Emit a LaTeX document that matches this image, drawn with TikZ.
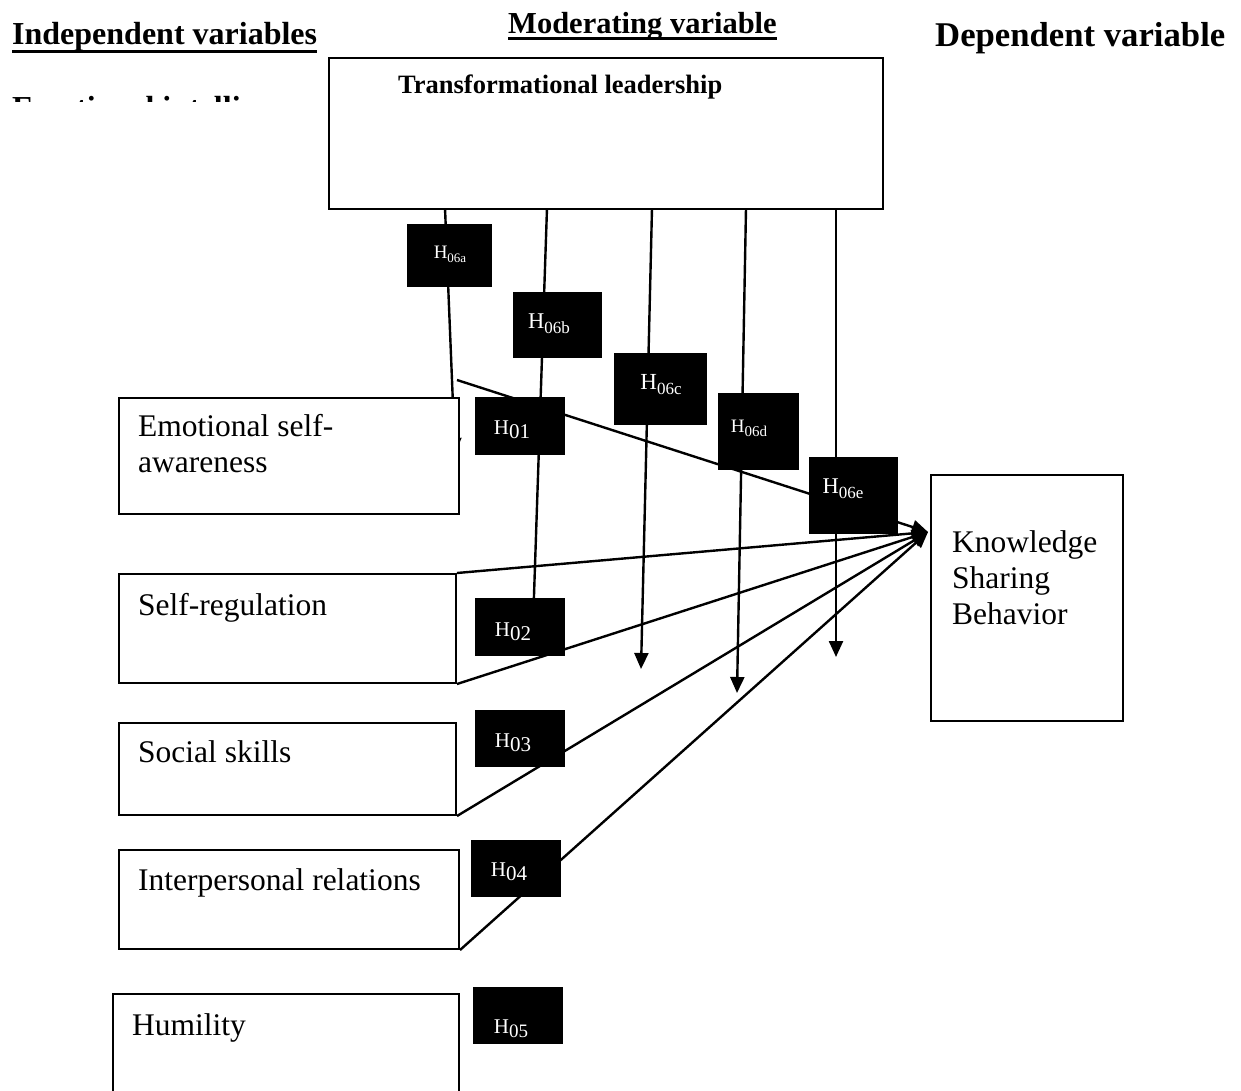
\documentclass[tikz,border=0pt]{standalone}
\usepackage{fontspec}
\setmainfont{Liberation Serif}
\usetikzlibrary{arrows.meta,calc}
\pgfdeclarelayer{bg}
\pgfdeclarelayer{lines}
\pgfsetlayers{bg,lines,main}
\newcommand\Hsub[4]{{\fontsize{#1}{#1}\selectfont H}{\fontsize{#2}{#2}\selectfont\raisebox{-#3pt}{#4}}}
\begin{document}
\begin{tikzpicture}[x=1pt,y=-1pt,
  conn/.style={line width=2.4pt},
  arr/.style={conn,-{Triangle[length=16pt,width=14pt]}},
  wbox/.style={draw,line width=2pt,fill=white,anchor=north west,inner sep=0pt},
  hbox/.style={fill=black,anchor=north west,inner sep=0pt},
  hlab/.style={text=white,inner sep=0pt,anchor=center},
  head/.style={font=\fontsize{32}{36}\selectfont\bfseries,anchor=base west,inner sep=0pt},
  body/.style={font=\fontsize{31.5}{36}\selectfont,anchor=base west,inner sep=0pt,align=left},
  uline/.style={line width=3pt}]
\begin{pgfonlayer}{bg}
\fill[white] (0,0) rectangle (1241,1091);
\end{pgfonlayer}
\useasboundingbox (0,0) rectangle (1241,1091);
\clip (0,0) rectangle (1241,1091);

% headers
\node[head] (indep) at (12,45) {Independent variables};
\draw[uline] ($(indep.base west)+(0,7)$) -- ($(indep.base east)+(0,7)$);
\node[head,font=\fontsize{30.5}{36}\selectfont\bfseries] (moder) at (508,34) {Moderating variable};
\draw[uline] ($(moder.base west)+(0,5)$) -- ($(moder.base east)+(0,5)$);
\node[head,font=\fontsize{34.7}{36}\selectfont\bfseries] (depen) at (935,47) {Dependent variable};
\begin{scope}
\clip (0,96) rectangle (242,102);
\node[head] (emint) at (12,119) {Emotional intelligence};
\end{scope}

% boxes
\node[wbox,minimum width=554,minimum height=151] (tl) at (328,57) {};
\node[font=\fontsize{26.5}{30}\selectfont\bfseries,anchor=base west,inner sep=0pt] (ttl) at (398,94) {Transformational leadership};
\node[wbox,minimum width=340,minimum height=116] (esa) at (118,397) {};
\node[wbox,minimum width=337,minimum height=109] (sr) at (118,573) {};
\node[wbox,minimum width=337,minimum height=92] (ss) at (118,722) {};
\node[wbox,minimum width=340,minimum height=99] (ir) at (118,849) {};
\node[wbox,minimum width=346,minimum height=120] (hu) at (112,993) {};
\node[wbox,minimum width=192,minimum height=246] (ksb) at (930,474) {};

\node[body] (tesa) at (138,472) {Emotional self-\\awareness};
\node[body] (tsr) at (138,615) {Self-regulation};
\node[body] (tss) at (138,762) {Social skills};
\node[body] (tir) at (138,890) {Interpersonal relations};
\node[body] (thu) at (132,1035) {Humility};
\node[body] (tksb) at (952,624) {Knowledge\\Sharing\\Behavior};

% coordinates
\coordinate (kin) at (928,532);
\coordinate (esaout) at (457,380);
\coordinate (v1) at (445,208);
\coordinate (v1e) at (455,454);
\coordinate (v2) at (547,208);
\coordinate (v2e) at (533,625);
\coordinate (v3) at (652,208);
\coordinate (v3e) at (641,669);
\coordinate (v4) at (746,208);
\coordinate (v4e) at (737,693);
\coordinate (v5) at (836,208);
\coordinate (v5e) at (836,657);

\begin{pgfonlayer}{lines}
\draw[arr] (v1) -- (v1e);
\draw[conn] (v2) -- (v2e);
\draw[arr] (v3) -- (v3e);
\draw[arr] (v4) -- (v4e);
\draw[arr] (v5) -- (v5e);
\draw[arr] (esaout) -- (kin);
\draw[arr] (sr.north east) -- (kin);
\draw[arr] (sr.south east) -- (kin);
\draw[arr] (ss.south east) -- (kin);
\draw[arr] (ir.south east) -- (kin);
\end{pgfonlayer}

% hypothesis boxes
\node[hbox,minimum width=85,minimum height=63] (h06a) at (407,224) {};
\node[hbox,minimum width=89,minimum height=66] (h06b) at (513,292) {};
\node[hbox,minimum width=93,minimum height=72] (h06c) at (614,353) {};
\node[hbox,minimum width=81,minimum height=77] (h06d) at (718,393) {};
\node[hbox,minimum width=89,minimum height=77] (h06e) at (809,457) {};
\node[hbox,minimum width=90,minimum height=58] (h01) at (475,397) {};
\node[hbox,minimum width=90,minimum height=58] (h02) at (475,598) {};
\node[hbox,minimum width=90,minimum height=57] (h03) at (475,710) {};
\node[hbox,minimum width=90,minimum height=57] (h04) at (471,840) {};
\node[hbox,minimum width=90,minimum height=57] (h05) at (473,987) {};

\node[hlab] (l06a) at (450,254) {\Hsub{19}{13}{4}{06a}};
\node[hlab] (l06b) at (549,324) {\Hsub{22.5}{17}{5}{06b}};
\node[hlab] (l06c) at (661,385) {\Hsub{23}{17}{5}{06c}};
\node[hlab] (l06d) at (749,428) {\Hsub{19}{15}{4}{06d}};
\node[hlab] (l06e) at (843,489) {\Hsub{22.5}{17}{5}{06e}};
\node[hlab] (l01) at (512,430) {\Hsub{21}{21}{4}{01}};
\node[hlab] (l02) at (513,632) {\Hsub{21}{21}{4}{02}};
\node[hlab] (l03) at (513,743) {\Hsub{21}{21}{4}{03}};
\node[hlab] (l04) at (509,872) {\Hsub{21}{21}{4}{04}};
\node[hlab] (l05) at (511,1029) {\Hsub{21}{19}{4}{05}};
\end{tikzpicture}
\end{document}
